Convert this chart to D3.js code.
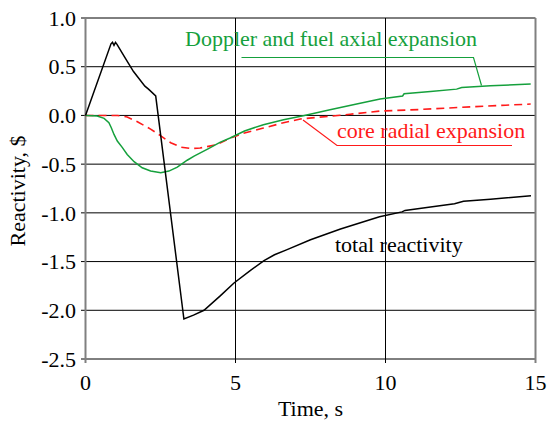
<!DOCTYPE html>
<html><head><meta charset="utf-8">
<script src="https://cdn.jsdelivr.net/npm/d3@7"></script>
<style>body{margin:0;background:#fff}svg{display:block}</style>
</head><body>
<script>
const yTicks = [1.0, 0.5, 0.0, -0.5, -1.0, -1.5, -2.0, -2.5];
const yTickLabels = ["1.0","0.5","0.0","-0.5","-1.0","-1.5","-2.0","-2.5"];
const xTicks = [0, 5, 10, 15];
const xTickLabels = ["0","5","10","15"];

const totalT = [0, 0.85, 0.9, 0.95, 1.0, 1.05, 1.3, 1.6, 1.98, 2.1, 2.34, 3.28, 3.6, 3.95, 4.5, 4.95, 5.5, 5.95, 6.3, 6.7, 7.5, 8.5, 9.8, 10.55, 10.65, 11.5, 12.3, 12.6, 13.5, 14.85];
const totalV = [0, 0.735, 0.75, 0.72, 0.75, 0.73, 0.60, 0.45, 0.30, 0.27, 0.20, -2.09, -2.05, -2.0, -1.85, -1.72, -1.59, -1.49, -1.43, -1.38, -1.276, -1.165, -1.04, -0.99, -0.975, -0.94, -0.906, -0.88, -0.86, -0.824];

const dopT = [0, 0.39, 0.62, 0.78, 0.86, 0.95, 1.06, 1.23, 1.39, 1.62, 1.89, 2.17, 2.51, 2.78, 3.06, 3.39, 3.62, 4.1, 4.48, 4.82, 5.3, 5.93, 6.6, 7.26, 8.15, 9.0, 9.82, 10.57, 10.62, 11.5, 12.37, 12.54, 13.5, 14.84];
const dopV = [0, -0.006, -0.03, -0.075, -0.126, -0.195, -0.263, -0.33, -0.40, -0.475, -0.537, -0.571, -0.588, -0.571, -0.53, -0.46, -0.417, -0.34, -0.277, -0.232, -0.16, -0.095, -0.044, -0.003, 0.058, 0.115, 0.168, 0.20, 0.222, 0.245, 0.27, 0.287, 0.305, 0.322];

const radT = [0, 1.06, 1.39, 1.73, 2.17, 2.51, 2.84, 3.17, 3.51, 3.82, 4.37, 4.82, 5.3, 5.93, 6.6, 7.2, 8.15, 8.82, 9.82, 11.1, 12, 13, 14, 14.84];
const radV = [0, 0, -0.016, -0.065, -0.14, -0.21, -0.28, -0.325, -0.34, -0.335, -0.30, -0.235, -0.18, -0.13, -0.075, -0.035, -0.008, 0.012, 0.045, 0.06, 0.075, 0.09, 0.105, 0.117];

const W = 547, H = 425;
const FF = "'Liberation Serif'";
const svg = d3.select("body").append("svg").attr("width", W).attr("height", H);
const x = d3.scaleLinear().domain([0, 15]).range([85.5, 535.5]);
const y = d3.scaleLinear().domain([1.0, -2.5]).range([18, 359]);
const FS = "22px";
const txt = () => svg.append("text").style("font-family", FF).style("font-size", FS);

yTicks.forEach((v, i) => {
  svg.append("line").attr("x1", 81).attr("x2", x(15)).attr("y1", y(v)).attr("y2", y(v))
    .attr("stroke", "#000").attr("stroke-width", 1);
  txt().attr("x", 76).attr("y", y(v)).attr("dy", "0.35em")
    .attr("text-anchor", "end").text(yTickLabels[i]);
});
xTicks.forEach((v, i) => {
  const edge = (v === 0 || v === 15);
  svg.append("line").attr("x1", x(v)).attr("x2", x(v)).attr("y1", y(1.0)).attr("y2", y(-2.5) + 4)
    .attr("stroke", edge ? "#808080" : "#000").attr("stroke-width", edge ? 2 : 1);
  txt().attr("x", x(v)).attr("y", 390).attr("text-anchor", "middle").text(xTickLabels[i]);
});

txt().attr("x", 310.5).attr("y", 416).attr("text-anchor", "middle").text("Time, s");
txt().attr("transform", "translate(25,191) rotate(-90)").attr("text-anchor", "middle").text("Reactivity, $");

const line = d3.line().x(d => x(d[0])).y(d => y(d[1]));
const zip = (a, b) => a.map((t, i) => [t, b[i]]);
const green = "#15a03c", red = "#ff1a1a";

svg.append("path").attr("d", line(zip(radT, radV))).attr("fill", "none")
  .attr("stroke", red).attr("stroke-width", 1.6).attr("stroke-dasharray", "8,5");
svg.append("path").attr("d", line(zip(dopT, dopV))).attr("fill", "none")
  .attr("stroke", green).attr("stroke-width", 1.5);
svg.append("path").attr("d", line(zip(totalT, totalV))).attr("fill", "none")
  .attr("stroke", "#000").attr("stroke-width", 1.5);

txt().attr("x", 185).attr("y", 46).attr("fill", green).text("Doppler and fuel axial expansion");
svg.append("polyline").attr("points", "241.5,57.5 473.5,57.5 481.5,85.5").attr("fill", "none")
  .attr("stroke", green).attr("stroke-width", 1.2);

txt().attr("x", 337).attr("y", 137.5).attr("fill", red).text("core radial expansion");
svg.append("polyline").attr("points", "303,120 337,145.5 512,145.5").attr("fill", "none")
  .attr("stroke", red).attr("stroke-width", 1.2);

txt().attr("x", 335).attr("y", 251.5).attr("fill", "#000").text("total reactivity");
</script>
</body></html>
